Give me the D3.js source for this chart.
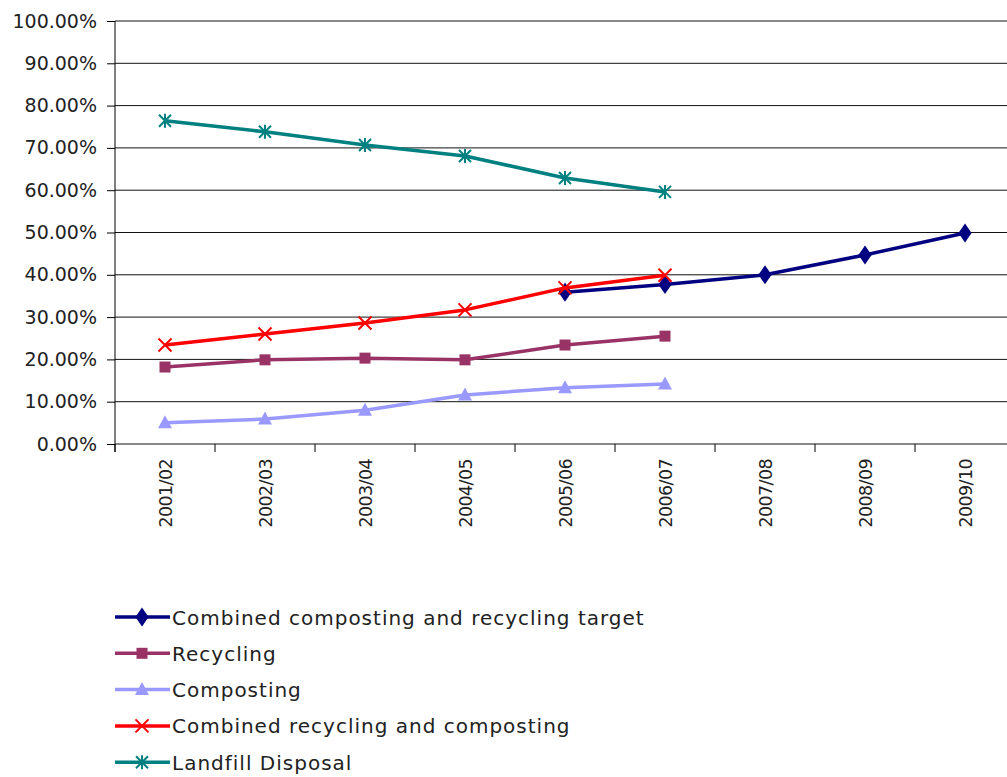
<!DOCTYPE html>
<html>
<head>
<meta charset="utf-8">
<script src="https://cdn.jsdelivr.net/npm/d3@7"></script>
<style>
  html, body { margin: 0; padding: 0; background: #fff; }
  svg { display: block; font-family: "DejaVu Sans", sans-serif; }
</style>
</head>
<body>
<svg id="chart" width="1007" height="777"></svg>
<script>
// Academic years on the category axis
const years = ["2001/02", "2002/03", "2003/04", "2004/05", "2005/06", "2006/07", "2007/08", "2008/09", "2009/10"];

// Percentages per year (null = no figure for that year)
const targetValues    = [null, null, null, null, 35.9, 37.7, 40.0, 44.7, 49.9];
const recyclingValues = [18.2, 19.9, 20.3, 19.9, 23.4, 25.5, null, null, null];
const compostingValues= [5.0, 5.9, 8.0, 11.6, 13.3, 14.2, null, null, null];
const combinedValues  = [23.4, 26.0, 28.6, 31.7, 36.9, 39.9, null, null, null];
const landfillValues  = [76.4, 73.8, 70.7, 68.1, 62.9, 59.6, null, null, null];

const yTicks = [0, 10, 20, 30, 40, 50, 60, 70, 80, 90, 100];

const series = [
  { name: "Combined composting and recycling target", values: targetValues,    color: "#000080", marker: "diamond" },
  { name: "Recycling",                                values: recyclingValues, color: "#993366", marker: "square" },
  { name: "Composting",                               values: compostingValues,color: "#9999FF", marker: "triangle" },
  { name: "Combined recycling and composting",        values: combinedValues,  color: "#FF0000", marker: "cross" },
  { name: "Landfill Disposal",                        values: landfillValues,  color: "#008080", marker: "star" }
];

const svg = d3.select("#chart");
const plotLeft = 115, plotRight = 1015, plotTop = 21, plotBottom = 444;

const x = d3.scaleBand().domain(years).range([plotLeft, plotRight]).paddingInner(0).paddingOuter(0);
const y = d3.scaleLinear().domain([0, 100]).range([plotBottom, plotTop]);
const cx = d => x(d) + x.bandwidth() / 2;

// Horizontal gridlines
svg.append("g").selectAll("line").data(yTicks).join("line")
  .attr("x1", plotLeft).attr("x2", plotRight)
  .attr("y1", d => y(d)).attr("y2", d => y(d))
  .attr("stroke", "#111").attr("stroke-width", 1);

// Y axis
const yAxis = svg.append("g").attr("transform", `translate(${plotLeft},0)`)
  .call(d3.axisLeft(y).tickValues(yTicks).tickSize(8).tickPadding(10)
    .tickFormat(d => d.toFixed(2) + "%"));
yAxis.select(".domain").remove();
svg.append("line").attr("x1", plotLeft).attr("x2", plotLeft).attr("y1", plotTop).attr("y2", plotBottom + 8)
  .attr("stroke", "#000");
yAxis.selectAll(".tick line").attr("stroke", "#000");
yAxis.selectAll(".tick text").attr("fill", "#222").style("font-size", "19px")
  .style("font-family", "DejaVu Sans, sans-serif");

// X axis with ticks at category boundaries
const boundaries = years.map(d => x(d)).concat([plotRight]);
svg.append("g").selectAll("line").data(boundaries).join("line")
  .attr("x1", d => d).attr("x2", d => d).attr("y1", plotBottom).attr("y2", plotBottom + 8)
  .attr("stroke", "#000");
svg.append("g").selectAll("text").data(years).join("text")
  .attr("transform", d => `translate(${cx(d) + 6.5},${459}) rotate(-90)`)
  .attr("text-anchor", "end")
  .attr("fill", "#222")
  .style("font-size", "17.5px")
  .style("letter-spacing", "-0.6px")
  .text(d => d);

// Marker drawing
function drawMarker(g, type, color) {
  switch (type) {
    case "diamond":
      g.append("path").attr("d", d3.symbol(d3.symbolDiamond, 105)()).attr("fill", color)
        .attr("transform", "scale(1.2,1)");
      break;
    case "square":
      g.append("rect").attr("x", -5.5).attr("y", -5.5).attr("width", 11).attr("height", 11).attr("fill", color);
      break;
    case "triangle":
      g.append("path").attr("d", "M0,-7.5 L7,5.5 L-7,5.5 Z").attr("fill", color);
      break;
    case "cross":
      g.append("path").attr("d", "M-6.5,-6.5 L6.5,6.5 M-6.5,6.5 L6.5,-6.5").attr("stroke", color).attr("stroke-width", 2).attr("fill", "none");
      break;
    case "star":
      g.append("path").attr("d", "M-6,-6 L6,6 M-6,6 L6,-6 M0,-7 L0,7")
        .attr("stroke", color).attr("stroke-width", 2).attr("fill", "none");
      break;
  }
}

const line = d3.line().defined(d => d.v !== null).x(d => cx(d.year)).y(d => y(d.v));

series.forEach(s => {
  const pts = years.map((yr, i) => ({ year: yr, v: s.values[i] }));
  svg.append("path").datum(pts).attr("d", line)
    .attr("fill", "none").attr("stroke", s.color).attr("stroke-width", 3.5)
    .attr("stroke-linejoin", "round");
  pts.filter(p => p.v !== null).forEach(p => {
    const g = svg.append("g").attr("transform", `translate(${cx(p.year)},${y(p.v)})`);
    drawMarker(g, s.marker, s.color);
  });
});

// Legend
const legend = svg.append("g");
series.forEach((s, i) => {
  const ly = 617 + i * 36.3;
  legend.append("line").attr("x1", 115).attr("x2", 170).attr("y1", ly).attr("y2", ly)
    .attr("stroke", s.color).attr("stroke-width", 3.5);
  const g = legend.append("g").attr("transform", `translate(142,${ly})`);
  drawMarker(g, s.marker, s.color);
  legend.append("text").attr("x", 172).attr("y", ly + 7.5)
    .attr("fill", "#222").style("font-size", "20px").style("letter-spacing", "1px")
    .text(s.name);
});
</script>
</body>
</html>
